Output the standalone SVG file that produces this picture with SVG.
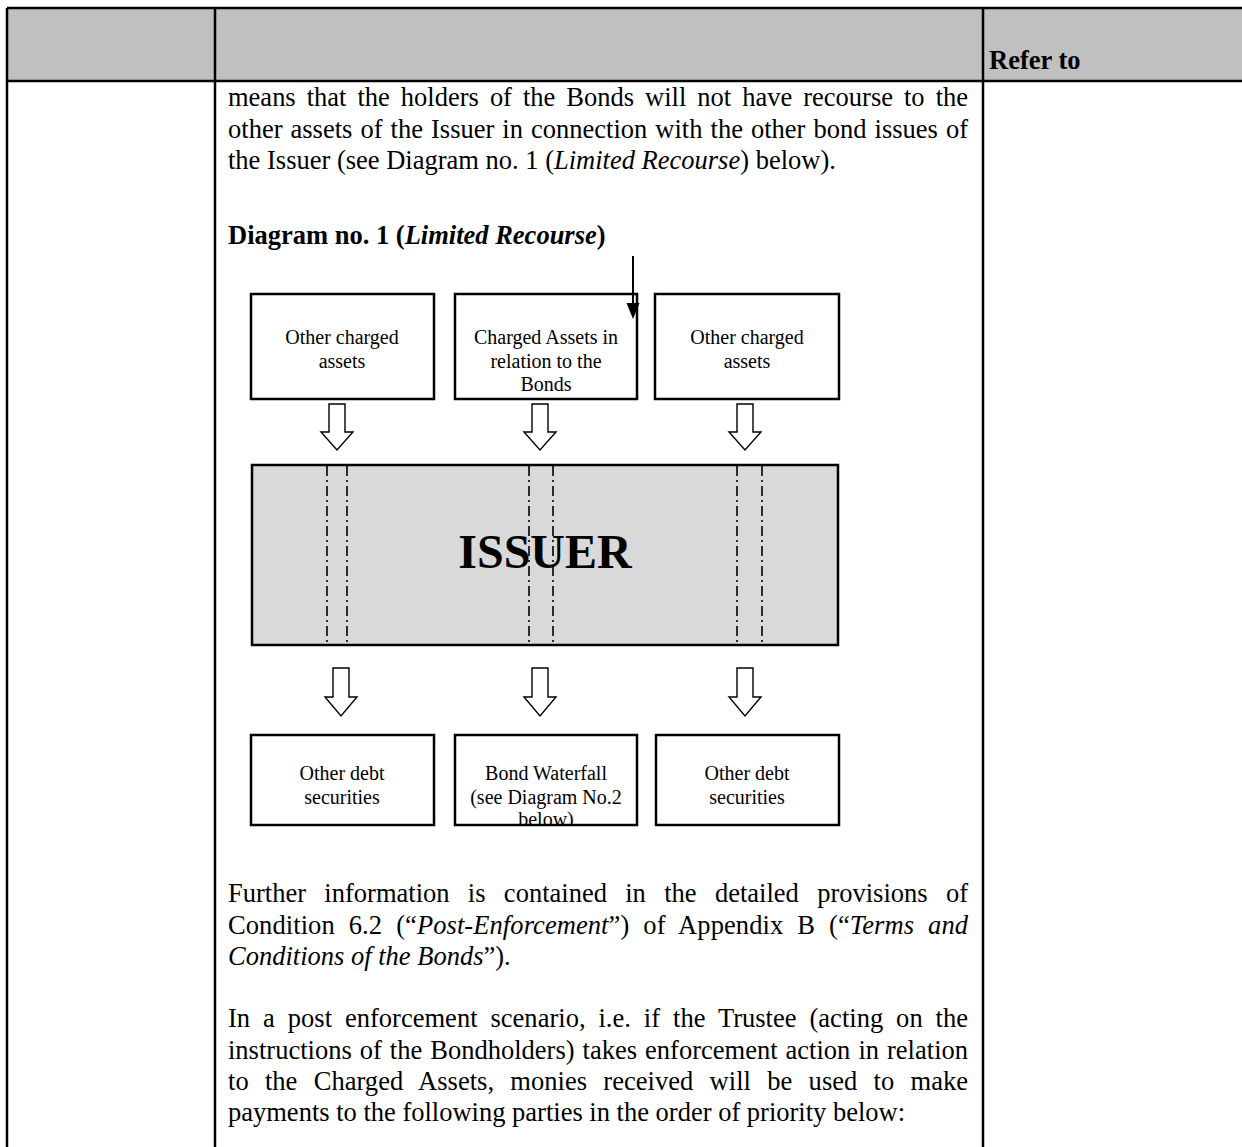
<svg xmlns="http://www.w3.org/2000/svg" width="1242" height="1147" viewBox="0 0 1242 1147">
<defs>
<style>
.t{font-family:"Liberation Serif","Times New Roman",serif;font-size:26.5px;fill:#000}
.b{font-weight:bold}
.i{font-style:italic}
.bt{font-family:"Liberation Serif","Times New Roman",serif;font-size:20px;fill:#000;text-anchor:middle}
.box{fill:#fff;stroke:#000;stroke-width:2.5}
.harrow{fill:#fff;stroke:#000;stroke-width:1.4}
.dd{stroke:#000;stroke-width:1.6;stroke-dasharray:10 4 2 4;fill:none}
.grid{stroke:#000;stroke-width:2.5;fill:none}
</style>
<clipPath id="wfclip"><rect x="456" y="736" width="180" height="88"/></clipPath>
</defs>
<rect width="1242" height="1147" fill="#fff"/>
<g id="table">
<rect x="7" y="8" width="1240" height="73" fill="#c0c0c0"/>
<path class="grid" d="M7,8 H1242 M7,81 H1242 M7,8 V1147 M215,8 V1147 M983,8 V1147"/>
<text class="t b" x="989" y="69">Refer to</text>
</g>
<g id="intro">
<text class="t" x="228" y="106" word-spacing="4.4" textLength="740" lengthAdjust="spacing">means that the holders of the Bonds will not have recourse to the</text>
<text class="t" x="228" y="138" word-spacing="1.4" textLength="740" lengthAdjust="spacing">other assets of the Issuer in connection with the other bond issues of</text>
<text class="t" x="228" y="169">the Issuer (see Diagram no. 1 (<tspan class="i">Limited Recourse</tspan>) below).</text>
<text class="t b" x="228" y="244">Diagram no. 1 (<tspan class="i">Limited Recourse</tspan>)</text>
</g>
<g id="node-charged-other-1">
<rect class="box" x="251" y="294" width="183" height="105"/>
<text class="bt" x="342" y="344">Other charged</text>
<text class="bt" x="342" y="368">assets</text>
</g>
<g id="node-charged-bonds">
<rect class="box" x="455" y="294" width="182" height="105"/>
<text class="bt" x="546" y="344">Charged Assets in</text>
<text class="bt" x="546" y="368">relation to the</text>
<text class="bt" x="546" y="391">Bonds</text>
</g>
<g id="node-charged-other-2">
<rect class="box" x="655" y="294" width="184" height="105"/>
<text class="bt" x="747" y="344">Other charged</text>
<text class="bt" x="747" y="368">assets</text>
</g>
<g id="node-issuer">
<rect x="252" y="465" width="586" height="180" fill="#d9d9d9" stroke="#000" stroke-width="2.5"/>
<path class="dd" d="M327,466 V644 M347,466 V644 M529,466 V644 M553,466 V644 M737,466 V644 M762,466 V644"/>
<text x="545" y="568" font-family="'Liberation Serif','Times New Roman',serif" font-size="48" font-weight="bold" text-anchor="middle">ISSUER</text>
</g>
<g id="node-debt-other-1">
<rect class="box" x="251" y="735" width="183" height="90"/>
<text class="bt" x="342" y="780">Other debt</text>
<text class="bt" x="342" y="804">securities</text>
</g>
<g id="node-waterfall">
<rect class="box" x="455" y="735" width="182" height="90"/>
<g clip-path="url(#wfclip)">
<text class="bt" x="546" y="780">Bond Waterfall</text>
<text class="bt" x="546" y="804">(see Diagram No.2</text>
<text class="bt" x="546" y="826">below)</text>
</g>
</g>
<g id="node-debt-other-2">
<rect class="box" x="656" y="735" width="183" height="90"/>
<text class="bt" x="747" y="780">Other debt</text>
<text class="bt" x="747" y="804">securities</text>
</g>
<g id="connectors">
<line x1="633" y1="256" x2="633" y2="305" stroke="#000" stroke-width="2"/>
<path d="M626.5,303 H639.5 L633,319 Z" fill="#000"/>
<path class="harrow" d="M329,404 H345 V432 H353 L337,450 L321,432 H329 Z"/>
<path class="harrow" d="M532,404 H548 V432 H556 L540,450 L524,432 H532 Z"/>
<path class="harrow" d="M737,404 H753 V432 H761 L745,450 L729,432 H737 Z"/>
<path class="harrow" d="M333,668 H349 V697 H357 L341,716 L325,697 H333 Z"/>
<path class="harrow" d="M532,668 H548 V697 H556 L540,716 L524,697 H532 Z"/>
<path class="harrow" d="M737,668 H753 V697 H761 L745,716 L729,697 H737 Z"/>
</g>
<g id="closing">
<text class="t" x="228" y="902" word-spacing="11.7" textLength="740" lengthAdjust="spacing">Further information is contained in the detailed provisions of</text>
<text class="t" x="228" y="934" word-spacing="7.3" textLength="740" lengthAdjust="spacing">Condition 6.2 (“<tspan class="i">Post-Enforcement</tspan>”) of Appendix B (“<tspan class="i">Terms and</tspan></text>
<text class="t" x="228" y="965"><tspan class="i">Conditions of the Bonds</tspan>”).</text>
<text class="t" x="228" y="1027" word-spacing="6.3" textLength="740" lengthAdjust="spacing">In a post enforcement scenario, i.e. if the Trustee (acting on the</text>
<text class="t" x="228" y="1059" word-spacing="1.4" textLength="740" lengthAdjust="spacing">instructions of the Bondholders) takes enforcement action in relation</text>
<text class="t" x="228" y="1090" word-spacing="9.6" textLength="740" lengthAdjust="spacing">to the Charged Assets, monies received will be used to make</text>
<text class="t" x="228" y="1121">payments to the following parties in the order of priority below:</text>
</g>
</svg>
